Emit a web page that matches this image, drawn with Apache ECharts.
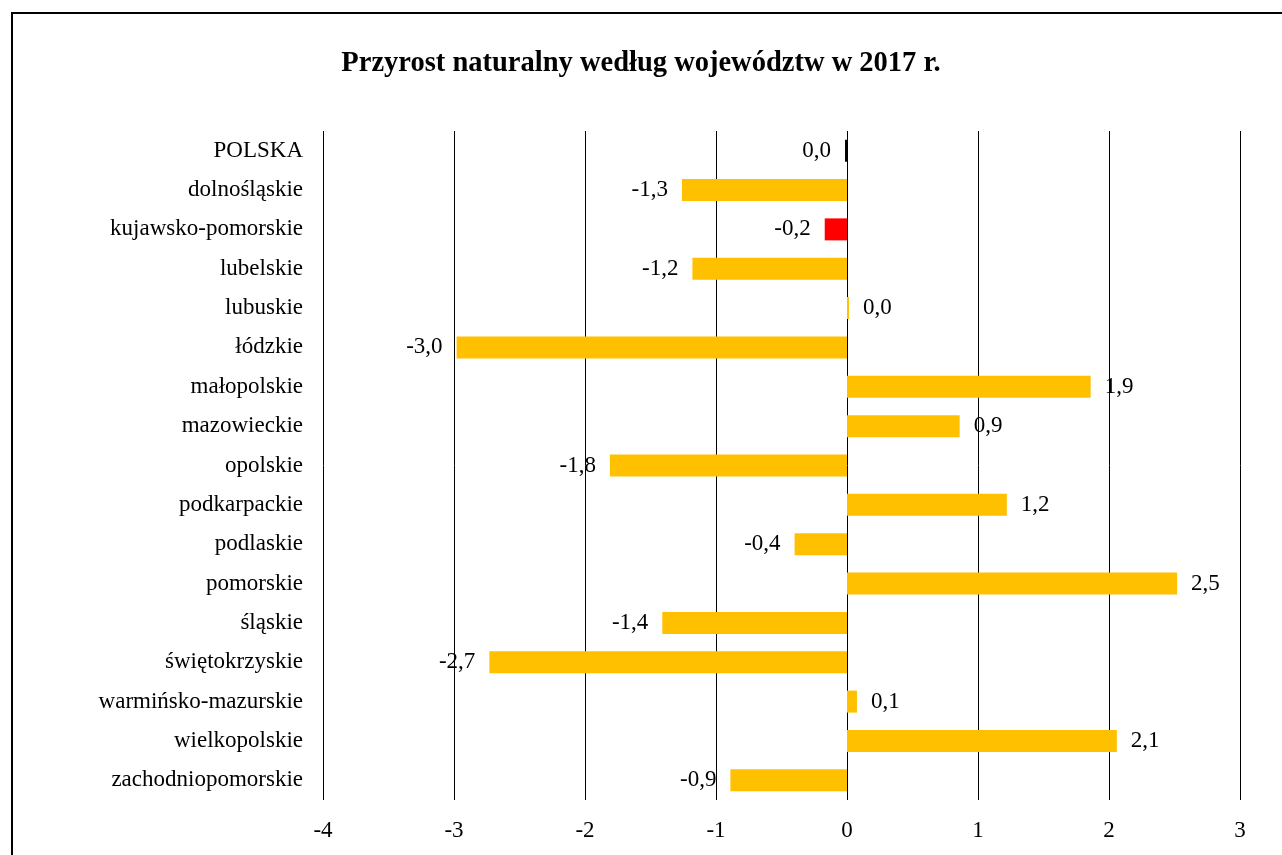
<!DOCTYPE html>
<html>
<head>
<meta charset="utf-8">
<script src="https://cdn.jsdelivr.net/npm/echarts@6/dist/echarts.min.js"></script>
<style>
  html, body { margin: 0; padding: 0; background: #fff; overflow: hidden; }
  .frame {
    position: absolute; left: 11px; top: 12px;
    width: 1300px; height: 900px;
    border: 2px solid #000; box-sizing: border-box;
  }
  #chart { position: absolute; left: 0; top: 0; width: 1282px; height: 855px; }
</style>
</head>
<body>
<div class="frame"></div>
<div id="chart"></div>
<script>
const titleText = 'Przyrost naturalny według województw w 2017 r.';
const regions = [
  'POLSKA', 'dolnośląskie', 'kujawsko-pomorskie', 'lubelskie', 'lubuskie',
  'łódzkie', 'małopolskie', 'mazowieckie', 'opolskie', 'podkarpackie',
  'podlaskie', 'pomorskie', 'śląskie', 'świętokrzyskie',
  'warmińsko-mazurskie', 'wielkopolskie', 'zachodniopomorskie'
];
const growth = [
  -0.015, -1.26, -0.17, -1.18, 0.015,
  -2.98, 1.86, 0.86, -1.81, 1.22,
  -0.40, 2.52, -1.41, -2.73,
  0.076, 2.06, -0.89
];
const barColors = {
  'POLSKA': '#000000',
  'kujawsko-pomorskie': '#FF0000'
};
const defaultColor = '#FFC000';
const xTicks = [-4, -3, -2, -1, 0, 1, 2, 3];

const font = '"Liberation Serif", "Times New Roman", serif';

function fmt(v) {
  let s = Math.abs(v).toFixed(1);
  if (s === '0.0') return '0,0';
  return (v < 0 ? '-' : '') + s.replace('.', ',');
}

let myChart = echarts.init(document.getElementById('chart'));
let option = {
  backgroundColor: 'transparent',
  animation: false,
  title: {
    text: titleText,
    left: 'center',
    top: 44,
    textStyle: { fontFamily: font, fontSize: 28.5, fontWeight: 'bold', color: '#000' }
  },
  grid: { left: 323, right: 42, top: 131, bottom: 55 },
  xAxis: {
    type: 'value',
    min: xTicks[0],
    max: xTicks[xTicks.length - 1],
    interval: 1,
    axisLine: { show: false },
    axisTick: { show: false },
    axisLabel: { fontFamily: font, fontSize: 23, color: '#000', margin: 19 },
    splitLine: { show: true, lineStyle: { color: '#000', width: 1 } }
  },
  yAxis: {
    type: 'category',
    inverse: true,
    data: regions,
    axisLine: { show: false },
    axisTick: { show: false },
    axisLabel: { fontFamily: font, fontSize: 23, color: '#000', margin: 20 },
    splitLine: { show: false }
  },
  series: [{
    type: 'bar',
    barWidth: 22,
    data: growth.map((v, i) => ({
      value: v,
      itemStyle: { color: barColors[regions[i]] || defaultColor },
      label: { position: v < 0 ? 'left' : 'right' }
    })),
    label: {
      show: true,
      distance: 14,
      fontFamily: font,
      fontSize: 23,
      color: '#000',
      formatter: p => fmt(p.value)
    }
  }]
};
myChart.setOption(option);
</script>
</body>
</html>
